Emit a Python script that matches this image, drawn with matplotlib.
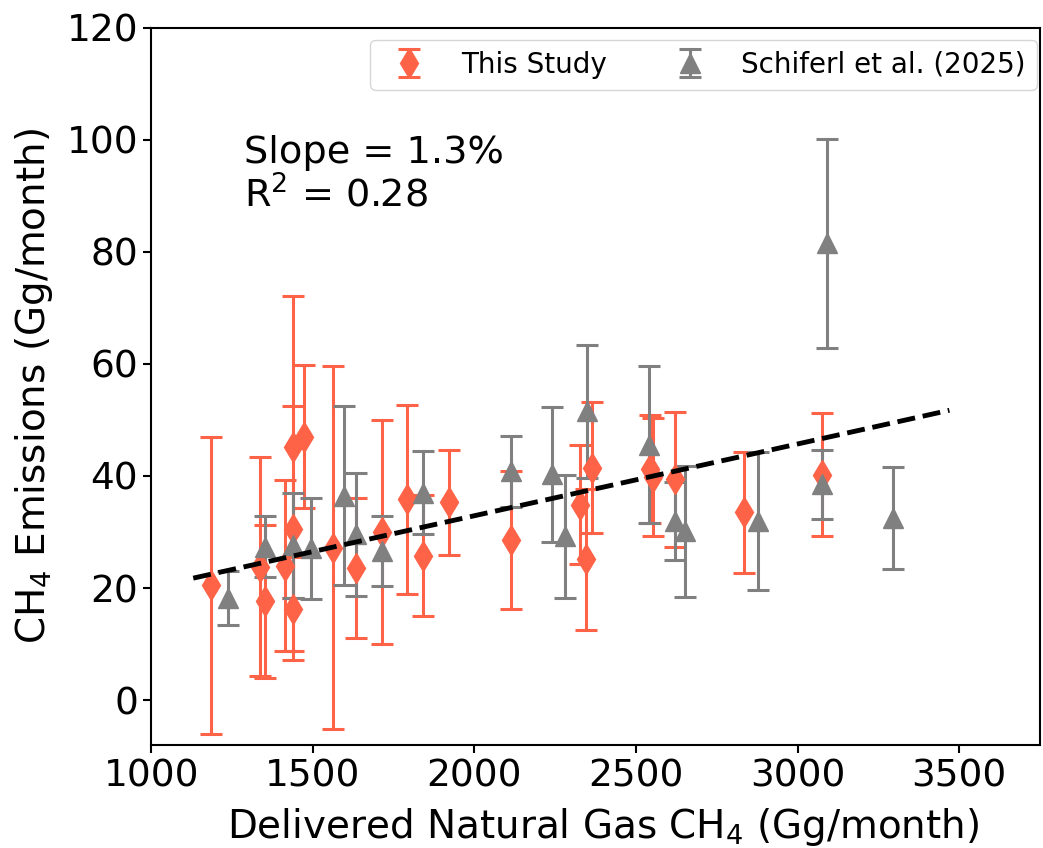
import matplotlib
matplotlib.use("Agg")
import matplotlib.pyplot as plt
import numpy as np

# This Study (orange diamonds)
study_x = [1185, 1337, 1353, 1414, 1440, 1440, 1440, 1473, 1564, 1634, 1715, 1791,
           1840, 1922, 2113, 2326, 2345, 2364, 2543, 2553, 2620, 2834, 3077]
study_y = [20.5, 23.8, 17.6, 24.0, 45.2, 30.6, 16.3, 47.0, 27.2, 23.5, 30.0, 35.8,
           25.8, 35.3, 28.5, 34.9, 25.1, 41.5, 41.2, 39.8, 39.4, 33.5, 40.2]
study_err = [26.5, 19.5, 13.6, 15.3, 26.9, 21.8, 9.2, 12.8, 32.4, 12.5, 20.0, 16.9,
             10.8, 9.4, 12.3, 10.7, 12.5, 11.7, 9.6, 10.6, 12.0, 10.8, 11.0]

# Schiferl et al. (2025) (grey triangles)
sch_x = [1239, 1353, 1440, 1495, 1597, 1634, 1715, 1840, 2113, 2240, 2280, 2347,
         2540, 2620, 2651, 2877, 3077, 3090, 3294]
sch_y = [18.2, 27.4, 27.6, 27.1, 36.5, 29.6, 26.6, 37.0, 40.8, 40.3, 29.2, 51.5,
         45.6, 32.0, 30.1, 31.9, 38.5, 81.5, 32.5]
sch_err = [4.8, 5.4, 9.3, 9.0, 16.0, 11.0, 6.2, 7.4, 6.3, 12.0, 11.0, 11.9,
           14.0, 7.0, 11.7, 12.3, 6.2, 18.6, 9.1]

# regression line
slope = 0.0128
intercept = 7.3
fit_x = np.array([1130, 3470])

orange = '#FF6347'
grey = '#808080'

fig = plt.figure(figsize=(10.43, 8.48), dpi=100)
ax = fig.add_axes([0.145, 0.1215, 0.852, 0.846])

ax.errorbar(study_x, study_y, yerr=study_err, fmt='d', color=orange, markersize=15,
            elinewidth=2.2, capsize=8, capthick=2.2, label='This Study', zorder=3)
ax.errorbar(sch_x, sch_y, yerr=sch_err, fmt='^', color=grey, markersize=14,
            elinewidth=2.2, capsize=8, capthick=2.2, label='Schiferl et al. (2025)', zorder=3)
ax.plot(fit_x, slope * fit_x + intercept, '--', color='black', linewidth=3.5, zorder=4)

ax.text(0.104, 0.85, 'Slope = 1.3%\nR$^2$ = 0.28', transform=ax.transAxes,
        fontsize=27.5, va='top', ha='left', linespacing=1.15)

ax.set_xlim(1000, 3750)
ax.set_ylim(-8, 120)
ax.set_xticks([1000, 1500, 2000, 2500, 3000, 3500])
ax.set_yticks([0, 20, 40, 60, 80, 100, 120])
ax.tick_params(labelsize=27, width=1.5, length=6)
for s in ax.spines.values():
    s.set_linewidth(1.5)
ax.set_xlabel('Delivered Natural Gas CH$_4$ (Gg/month)', fontsize=28, labelpad=4)
ax.xaxis.set_label_coords(0.509, -0.085)
ax.set_ylabel('CH$_4$ Emissions (Gg/month)', fontsize=28, labelpad=8)
ax.legend(loc='upper right', bbox_to_anchor=(0.9966, 0.983), ncol=2, fontsize=20,
          handletextpad=0.85, columnspacing=2.0, borderaxespad=0)

fig.savefig('out.png', dpi=100)
